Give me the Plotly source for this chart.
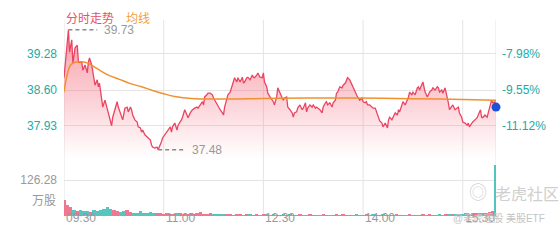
import numpy as np
import plotly.graph_objects as go

# ---------------- data ----------------
price_min = [0, 4, 5, 7, 8, 10, 12, 13, 16, 17,
             19, 21, 22, 23, 25, 26, 28, 30, 31, 32,
             34, 35, 37, 39, 40, 42, 43, 44, 46, 48,
             49, 51, 52, 53, 55, 57, 58, 60, 61, 62,
             64, 66, 67, 69, 70, 71, 73, 75, 78, 79,
             80, 82, 84, 85, 87, 88, 89, 91, 94, 96,
             97, 98, 100, 102, 103, 105, 106, 107, 109, 111,
             112, 114, 116, 118, 120, 121, 123, 125, 126, 127,
             129, 130, 132, 134, 135, 136, 138, 139, 141, 143,
             144, 145, 147, 148, 150, 152, 153, 154, 156, 157,
             159, 161, 162, 163, 165, 166, 168, 170, 171, 172,
             174, 175, 177, 179, 180, 181, 183, 184, 186, 188,
             189, 190, 192, 193, 195, 197, 198, 199, 201, 202,
             204, 206, 207, 208, 210, 211, 213, 215, 216, 218,
             219, 220, 222, 224, 225, 227, 228, 229, 231, 233,
             234, 236, 237, 238, 240, 242, 243, 245, 246, 247,
             249, 251, 252, 254, 255, 256, 258, 260, 261, 263,
             264, 265, 267, 269, 270, 272, 273, 274, 276, 278,
             279, 281, 283, 284, 285, 287, 288, 290, 292, 293,
             294, 296, 297, 299, 301, 302, 303, 305, 306, 308,
             310, 311, 312, 314, 315, 317, 319, 320, 321, 323,
             324, 326, 328, 329, 330, 332, 333, 335, 337, 338,
             339, 341, 342, 344, 346, 347, 348, 350, 351, 353,
             355, 356, 357, 359, 360, 362, 364, 365, 366, 368,
             369, 371, 373, 374, 376, 377, 378, 380, 382, 383,
             385, 386, 387, 389, 390]

price = [38.83, 39.73, 39.31, 39.54, 39.10, 39.39, 39.44, 39.12, 39.12, 38.97,
         39.07, 38.92, 39.12, 39.20, 39.07, 38.92, 38.69, 38.79, 38.66, 38.73,
         38.45, 38.28, 38.41, 38.26, 38.17, 38.04, 37.93, 38.09, 38.23, 38.38,
         38.28, 38.17, 38.13, 38.04, 38.26, 38.28, 38.19, 38.28, 38.23, 38.13,
         38.04, 38.00, 37.91, 37.89, 37.81, 37.85, 37.76, 37.72, 37.66, 37.57,
         37.53, 37.51, 37.53, 37.48, 37.57, 37.63, 37.70, 37.76, 37.85, 37.91,
         37.81, 37.91, 37.98, 37.85, 37.94, 38.00, 38.04, 38.09, 38.23, 38.13,
         38.08, 38.17, 38.23, 38.26, 38.28, 38.26, 38.32, 38.38, 38.32, 38.47,
         38.51, 38.54, 38.54, 38.51, 38.45, 38.41, 38.32, 38.28, 38.23, 38.17,
         38.13, 38.28, 38.45, 38.51, 38.56, 38.69, 38.75, 38.83, 38.75, 38.83,
         38.75, 38.84, 38.73, 38.75, 38.83, 38.84, 38.79, 38.88, 38.84, 38.83,
         38.88, 38.92, 38.84, 38.83, 38.92, 38.75, 38.66, 38.54, 38.47, 38.41,
         38.38, 38.32, 38.47, 38.64, 38.56, 38.45, 38.41, 38.45, 38.47, 38.28,
         38.23, 38.17, 38.09, 38.17, 38.19, 38.26, 38.32, 38.23, 38.26, 38.36,
         38.19, 38.26, 38.32, 38.28, 38.32, 38.26, 38.28, 38.26, 38.23, 38.17,
         38.28, 38.36, 38.38, 38.32, 38.36, 38.28, 38.36, 38.41, 38.54, 38.56,
         38.66, 38.64, 38.69, 38.73, 38.79, 38.83, 38.79, 38.69, 38.64, 38.56,
         38.51, 38.47, 38.41, 38.45, 38.38, 38.36, 38.38, 38.32, 38.32, 38.28,
         38.26, 38.26, 38.13, 38.04, 38.02, 37.98, 37.91, 37.98, 37.89, 38.04,
         38.09, 38.04, 38.08, 38.17, 38.13, 38.23, 38.19, 38.32, 38.38, 38.32,
         38.41, 38.47, 38.56, 38.51, 38.56, 38.51, 38.64, 38.66, 38.60, 38.69,
         38.75, 38.56, 38.47, 38.51, 38.56, 38.60, 38.64, 38.60, 38.66, 38.64,
         38.56, 38.60, 38.54, 38.64, 38.47, 38.36, 38.23, 38.28, 38.32, 38.23,
         38.26, 38.28, 38.17, 38.09, 38.00, 37.98, 37.94, 37.98, 37.91, 37.98,
         38.00, 38.04, 38.08, 38.13, 38.23, 38.09, 38.08, 38.13, 38.09, 38.17,
         38.32, 38.41, 38.36, 38.38, 38.28]

avg_min = [0, 3, 6, 10, 16, 22, 30, 40, 50, 60, 70, 80, 90, 100,
           115, 140, 180, 220, 260, 300, 340, 390]
avg_price = [38.56, 38.90, 39.07, 39.12, 39.13, 39.10, 39.00, 38.88, 38.80,
             38.72, 38.66, 38.59, 38.53, 38.48, 38.44, 38.43, 38.44, 38.45,
             38.45, 38.44, 38.43, 38.41]

volume = [56, 38, 30, 22, 18, 20, 16, 18, 14, 20,
          16, 22, 26, 30, 24, 20, 16, 14, 18, 22,
          14, 12, 10, 16, 12, 10, 14, 12, 10, 9,
          8, 12, 8, 7, 9, 12, 7, 8, 10, 7,
          9, 14, 8, 7, 9, 6, 7, 8, 6, 7,
          6, 5, 7, 6, 5, 6, 8, 5, 6, 5,
          6, 7, 5, 6, 5, 4, 6, 5, 7, 5,
          4, 6, 5, 5, 7, 5, 4, 5, 6, 5,
          4, 5, 6, 5, 6, 5, 4, 5, 6, 4,
          5, 6, 5, 6, 5, 4, 6, 5, 5, 4,
          6, 5, 4, 5, 6, 5, 4, 5, 6, 5,
          6, 4, 5, 6, 5, 7, 6, 7, 6, 8,
          7, 9, 8, 10, 9, 11, 10, 12, 14, 16,
          179]
vol_min = list(range(0, 3 * (len(volume) - 1), 3)) + [390]

price_ticks = [39.28, 38.60, 37.93]
pct_labels = ["-7.98%", "-9.55%", "-11.12%"]
vol_tick = [126.28]
time_ticks = [0, 90, 180, 270, 360]
time_labels = ["09:30", "11:00", "12:30", "14:00", "15:30"]

# ---------------- styling ----------------
FONT = "Arial, 'Liberation Sans', 'Noto Sans CJK SC', sans-serif"
TEAL = "#22aaa6"
GREY = "#999999"
GRID = "#e4e4e4"
RED = "#ea4462"
ORANGE = "#f1912e"

pm = np.array(price_min)
pp = np.array(price)

# bar colours from price movement
vol_colors = []
prev = pp[0]
for m in vol_min:
    i = max(0, np.searchsorted(pm, m, side="right") - 1)
    cur = pp[i]
    vol_colors.append("rgba(236,96,124,0.85)" if cur >= prev else "rgba(56,186,180,0.85)")
    prev = cur

fig = go.Figure()

fig.add_trace(go.Scatter(
    x=price_min, y=price, mode="lines", xaxis="x", yaxis="y",
    line=dict(color=RED, width=1.3), fill="tozeroy",
    fillgradient=dict(type="vertical", start=37.33, stop=39.75,
                      colorscale=[[0, "rgba(244,90,110,0)"],
                                  [0.35, "rgba(244,90,110,0.22)"],
                                  [1, "rgba(244,90,110,0.6)"]]),
    hoverinfo="skip", showlegend=False))

fig.add_trace(go.Scatter(
    x=avg_min, y=avg_price, mode="lines", xaxis="x", yaxis="y",
    line=dict(color=ORANGE, width=1.5, shape="spline"),
    hoverinfo="skip", showlegend=False))

fig.add_trace(go.Bar(
    x=vol_min, y=volume, xaxis="x", yaxis="y2",
    marker=dict(color=vol_colors, line=dict(width=0)), width=3.0,
    showlegend=False, hoverinfo="skip"))

fig.add_trace(go.Scatter(
    x=[price_min[-1]], y=[price[-1]], mode="markers", xaxis="x", yaxis="y",
    marker=dict(color="#1f4fd6", size=9), cliponaxis=False,
    showlegend=False, hoverinfo="skip"))

# right percentage axis (overlay, no marks)
prange = [37.2875, 39.9125]
fig.add_trace(go.Scatter(x=[None], y=[None], xaxis="x", yaxis="y3",
                         showlegend=False, hoverinfo="skip"))

x0, x1 = 64 / 560, 496 / 560
shapes = []
for t in time_ticks + [390]:
    shapes.append(dict(type="line", xref="x", yref="paper", x0=t, x1=t,
                       y0=0.1, y1=1 - 20 / 240, line=dict(color=GRID, width=1),
                       layer="below"))

imax = int(np.argmax(pp))
imin = int(np.argmin(pp))
shapes.append(dict(type="line", xref="x", yref="y", x0=price_min[imax], x1=price_min[imax] + 26,
                   y0=price[imax], y1=price[imax], line=dict(color="#8a8a8a", width=1.5, dash="4px,3px")))
shapes.append(dict(type="line", xref="x", yref="y", x0=price_min[imin], x1=price_min[imin] + 25,
                   y0=price[imin], y1=price[imin], line=dict(color="#8a8a8a", width=1.5, dash="4px,3px")))

annotations = [
    dict(x=price_min[imax] + 30, y=price[imax], xref="x", yref="y", text=f"{price[imax]:.2f}",
         showarrow=False, xanchor="left", font=dict(color=GREY, size=12, family=FONT)),
    dict(x=price_min[imin] + 29, y=price[imin], xref="x", yref="y", text=f"{price[imin]:.2f}",
         showarrow=False, xanchor="left", font=dict(color=GREY, size=12, family=FONT)),
    dict(x=x0, y=1 - 10 / 240, xref="paper", yref="paper", text="分时走势", showarrow=False,
         xanchor="left", font=dict(color="#e8506c", size=12, family=FONT)),
    dict(x=124 / 560, y=1 - 10 / 240, xref="paper", yref="paper", text="均线", showarrow=False,
         xanchor="left", font=dict(color="#f0a040", size=12, family=FONT)),
    dict(x=58 / 560, y=1 - 210 / 240, xref="paper", yref="paper", text="万股", showarrow=False,
         xanchor="right", font=dict(color=GREY, size=12, family=FONT)),
    dict(x=493 / 560, y=1 - 205 / 240, xref="paper", yref="paper", text="老虎社区", showarrow=False,
         xanchor="left", font=dict(color="#cfcfcf", size=16, family=FONT)),
    dict(x=478 / 560, y=1 - 205 / 240, xref="paper", yref="paper", text="◎", showarrow=False,
         xanchor="center", font=dict(color="#d5d5d5", size=18, family=FONT)),
]
for t, lab in zip(time_ticks, time_labels):
    annotations.append(dict(x=t, y=1 - 227 / 240, xref="x", yref="paper", text=lab,
                            showarrow=False, xanchor="left",
                            font=dict(color=GREY, size=12, family=FONT)))
annotations.append(dict(x=547 / 560, y=1 - 226 / 240, xref="paper", yref="paper",
                        text="@老虎理股 美股ETF", showarrow=False, xanchor="right",
                        font=dict(color="#c4c4c4", size=10, family=FONT)))

fig.update_layout(
    width=560, height=240, margin=dict(l=0, r=0, t=0, b=0),
    paper_bgcolor="white", plot_bgcolor="white",
    font=dict(family=FONT),
    xaxis=dict(domain=[x0, x1], range=[0, 390], showgrid=False, zeroline=False,
               showticklabels=False, showline=False, anchor="y2", fixedrange=True),
    yaxis=dict(domain=[1 - 160 / 240, 1 - 20 / 240], range=prange, tickvals=price_ticks,
               ticktext=[f"{v:.2f}" for v in price_ticks], tickfont=dict(color=TEAL, size=12),
               showgrid=True, gridcolor=GRID, zeroline=False, showline=False,
               ticks="", ticklabelstandoff=6, anchor="x"),
    yaxis3=dict(overlaying="y", side="right", range=prange, tickvals=price_ticks,
                ticktext=pct_labels, tickfont=dict(color=TEAL, size=12), showgrid=False,
                zeroline=False, showline=False, ticks="", ticklabelstandoff=5, anchor="x"),
    yaxis2=dict(domain=[0.1, 1 - 162 / 240], range=[0, 126.28 * 54 / 36], tickvals=vol_tick,
                ticktext=[f"{v:.2f}" for v in vol_tick], tickfont=dict(color=GREY, size=12),
                showgrid=True, gridcolor=GRID, zeroline=False, showline=False,
                ticks="", ticklabelstandoff=6, anchor="x"),
    bargap=0, shapes=shapes, annotations=annotations,
)

fig.write_html("out.html")
